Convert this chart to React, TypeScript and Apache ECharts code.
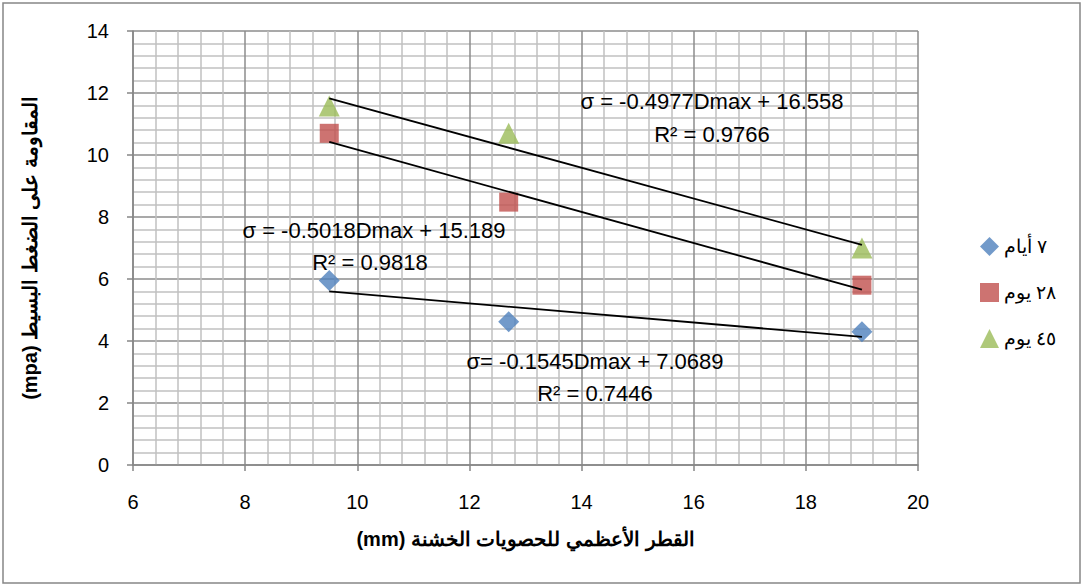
import React, { useEffect, useRef } from "react";
import * as echarts from "echarts";

const seriesNames = ["٧ أيام", "٢٨ يوم", "٤٥ يوم"];
const xValues = [9.5, 12.7, 19];
const days7 = [5.95, 4.62, 4.3];
const days28 = [10.7, 8.48, 5.8];
const days45 = [11.58, 10.7, 7.0];
const slopes = [-0.1545, -0.5018, -0.4977];
const intercepts = [7.0689, 15.189, 16.558];
const equations = [
  "σ= -0.1545Dmax + 7.0689",
  "σ = -0.5018Dmax + 15.189",
  "σ = -0.4977Dmax + 16.558",
];
const r2Labels = ["R² = 0.7446", "R² = 0.9818", "R² = 0.9766"];
const colors = ["#4F81BD", "#C0504D", "#9BBB59"];
const symbols = ["diamond", "rect", "triangle"];

const FONT = "'Liberation Sans', Arial";

export default function App() {
  const ref = useRef<HTMLDivElement>(null);
  useEffect(() => {
    const chart = echarts.init(ref.current!, null, { renderer: "svg" });
    const valuesList = [days7, days28, days45];
    const scatter = valuesList.map((vals, i) => ({
      name: seriesNames[i],
      type: "scatter",
      symbol: symbols[i],
      symbolSize: i === 1 ? 19 : 21,
      itemStyle: { color: colors[i] },
      data: xValues.map((x, j) => [x, vals[j]]),
      z: 3,
    }));
    const x0 = xValues[0];
    const x1 = xValues[xValues.length - 1];
    const trends = slopes.map((s, i) => ({
      name: "trend" + i,
      type: "line",
      symbol: "none",
      lineStyle: { color: "#000", width: 1.8 },
      data: [
        [x0, s * x0 + intercepts[i]],
        [x1, s * x1 + intercepts[i]],
      ],
      z: 4,
    }));
    const eqPos = [
      [595, 361, 595, 393],
      [374, 230, 370, 262],
      [712, 101, 712, 134],
    ];
    const texts: any[] = [];
    equations.forEach((eq, i) => {
      texts.push({
        type: "text",
        x: eqPos[i][0],
        y: eqPos[i][1],
        style: {
          text: eq,
          fill: "#000",
          font: "22px " + FONT,
          textAlign: "center",
          textVerticalAlign: "middle",
        },
        z: 10,
      });
      texts.push({
        type: "text",
        x: eqPos[i][2],
        y: eqPos[i][3],
        style: {
          text: r2Labels[i],
          fill: "#000",
          font: "22px " + FONT,
          textAlign: "center",
          textVerticalAlign: "middle",
        },
        z: 10,
      });
    });
    chart.setOption({
      animation: false,
      backgroundColor: "#fff",
      grid: { left: 133, right: 166, top: 31, bottom: 122 },
      legend: {
        data: seriesNames.map((n, i) => ({ name: n, icon: symbols[i] })),
        orient: "vertical",
        left: 975,
        top: 232,
        itemGap: 27,
        itemWidth: 19,
        itemHeight: 19,
        textStyle: { fontSize: 19, color: "#000", fontFamily: FONT },
      },
      xAxis: {
        type: "value",
        min: 6,
        max: 20,
        interval: 2,
        axisLine: { show: true, lineStyle: { color: "#868686", width: 1.5 } },
        axisTick: { show: true, length: 6, lineStyle: { color: "#868686", width: 1.5 } },
        axisLabel: { fontSize: 20, color: "#000", margin: 27, fontFamily: FONT },
        splitLine: { show: true, lineStyle: { color: "#8C8C8C", width: 1.5 } },
        minorTick: { show: false, splitNumber: 5 },
        minorSplitLine: { show: true, lineStyle: { color: "#C0C0C0", width: 1.5 } },
        name: "(mm) القطر الأعظمي للحصويات الخشنة",
        nameLocation: "middle",
        nameGap: 64,
        nameTextStyle: { fontSize: 20, fontWeight: "bold", color: "#000", fontFamily: FONT },
      },
      yAxis: {
        type: "value",
        min: 0,
        max: 14,
        interval: 2,
        axisLine: { show: true, lineStyle: { color: "#868686", width: 1.5 } },
        axisTick: { show: true, length: 6, lineStyle: { color: "#868686", width: 1.5 } },
        axisLabel: { fontSize: 20, color: "#000", margin: 24, fontFamily: FONT },
        splitLine: { show: true, lineStyle: { color: "#8C8C8C", width: 1.5 } },
        minorTick: { show: false, splitNumber: 5 },
        minorSplitLine: { show: true, lineStyle: { color: "#C0C0C0", width: 1.5 } },
        name: "(mpa) المقاومة على الضغط البسيط",
        nameLocation: "middle",
        nameGap: 93,
        nameTextStyle: { fontSize: 20, fontWeight: "bold", color: "#000", fontFamily: FONT },
      },
      graphic: [
        {
          type: "rect",
          shape: { x: 3, y: 3, width: 1077, height: 580 },
          style: { fill: "none", stroke: "#868686", lineWidth: 1.5 },
          z: 0,
        },
        ...texts,
      ],
      series: [...scatter, ...trends],
    });
    return () => chart.dispose();
  }, []);
  return (
    <div
      ref={ref}
      style={{ position: "fixed", left: 0, top: 0, width: 1084, height: 587 }}
    />
  );
}
